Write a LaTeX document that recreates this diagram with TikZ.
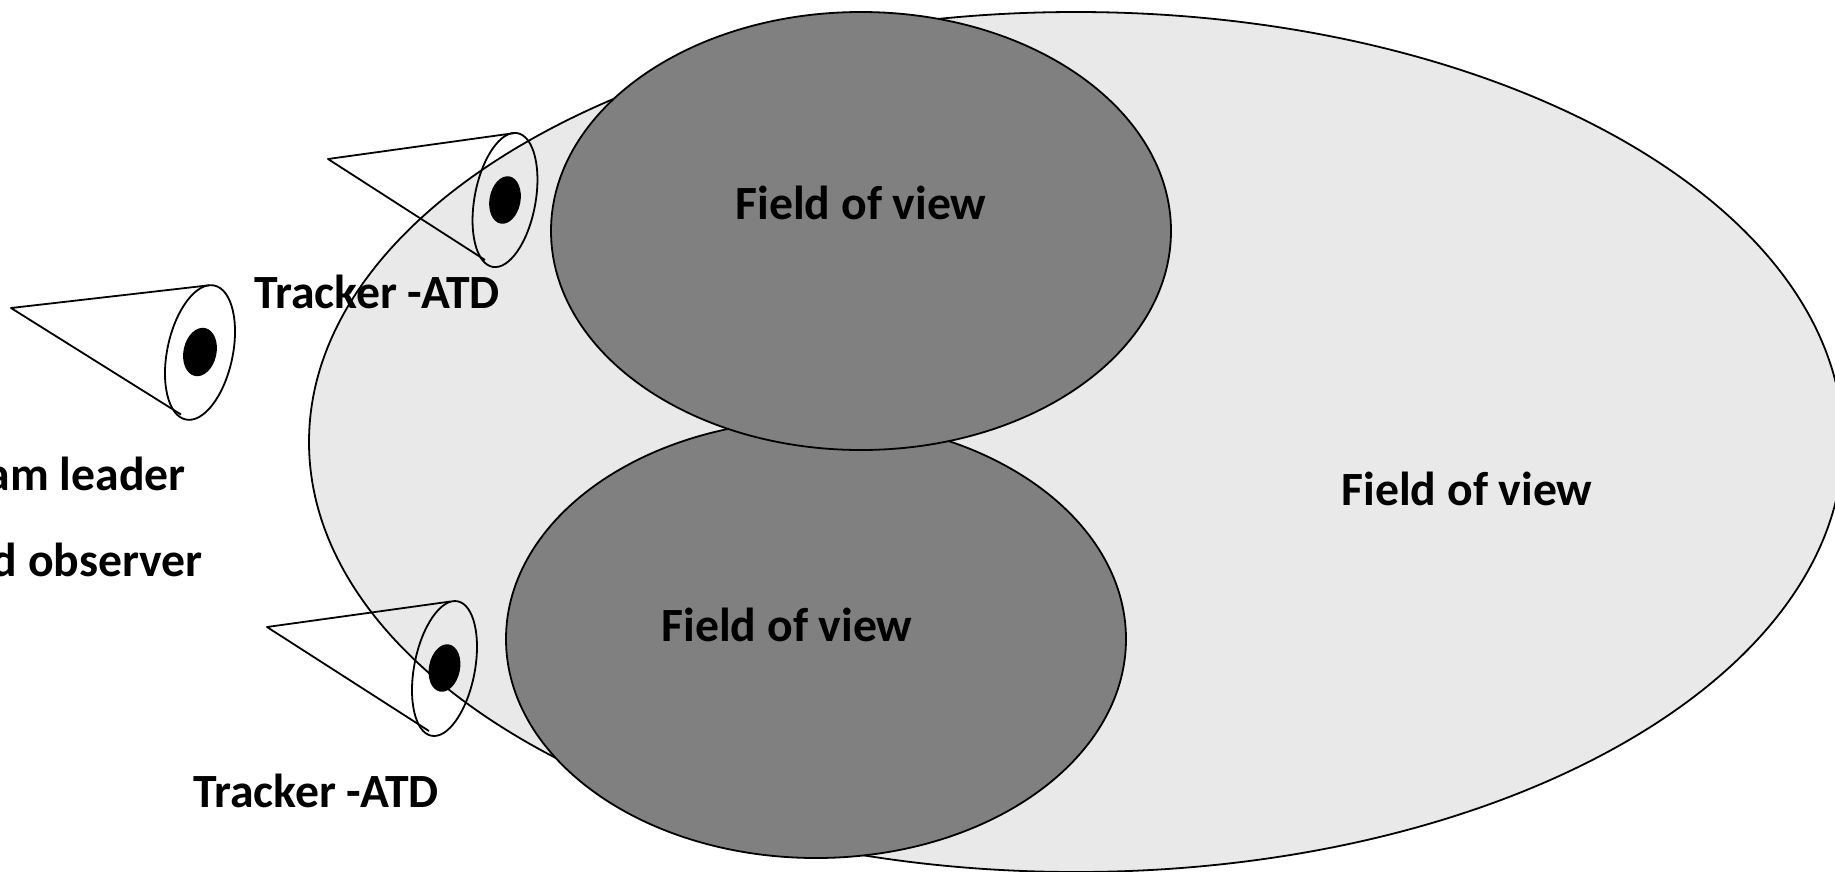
\documentclass[tikz,border=0pt]{standalone}
\usepackage{fontspec}
\setmainfont{Carlito}
\tikzset{
  bigfov/.style={draw=black,line width=1.8pt,fill=fovlight},
  smallfov/.style={draw=black,line width=1.8pt,fill=fovdark},
  coneline/.style={draw=black,line width=1.8pt,line join=round},
  pupil/.style={fill=black},
  lab/.style={font=\fontsize{47.7}{47.7}\selectfont\bfseries,inner sep=0pt,text=black}
}
\definecolor{fovlight}{HTML}{E9E9E9}
\definecolor{fovdark}{HTML}{808080}
\begin{document}
\begin{tikzpicture}[x=1pt,y=-1pt]
\useasboundingbox (0,0) rectangle (1835,871);
\fill[bigfov] (1076,442) ellipse [x radius=767,y radius=430];
\fill[smallfov] (816,639) ellipse [x radius=310,y radius=219];
\fill[smallfov] (861,231) ellipse [x radius=310,y radius=219];
% leader eye
\coordinate (a1) at (11,308); \coordinate (t1) at (209,285.3); \coordinate (b1) at (181,414.5);
\draw[coneline] (b1) -- (a1) -- (t1);
\draw[coneline] (200,352.5) ellipse [x radius=68.5,y radius=32.7,rotate=78];
\fill[pupil] (200,352) ellipse [x radius=24.5,y radius=16.5,rotate=78];
% upper tracker
\coordinate (a2) at (328,159); \coordinate (t2) at (515,133); \coordinate (b2) at (485,260);
\draw[coneline] (b2) -- (a2) -- (t2);
\draw[coneline] (505,200) ellipse [x radius=68,y radius=30.5,rotate=79.5];
\fill[pupil] (505,200) ellipse [x radius=24,y radius=15.5,rotate=79.5];
% lower tracker
\coordinate (a3) at (267,627); \coordinate (t3) at (450.5,601.5); \coordinate (b3) at (429,731);
\draw[coneline] (b3) -- (a3) -- (t3);
\draw[coneline] (444.5,668.5) ellipse [x radius=68.5,y radius=30.3,rotate=79];
\fill[pupil] (444.5,668) ellipse [x radius=24,y radius=15.5,rotate=79];
% labels
\node[lab] (fov1) at (861,203) {Field of view};
\node[lab] (fov2) at (787,625) {Field of view};
\node[lab] (fov3) at (1467,489) {Field of view};
\node[lab] (trk1) at (377,292) {Tracker -ATD};
\node[lab] (trk2) at (316,791) {Tracker -ATD};
\node[lab,anchor=east] (lead) at (186,474) {am leader};
\node[lab,anchor=east] (obs) at (203,560) {d observer};
\end{tikzpicture}
\end{document}
